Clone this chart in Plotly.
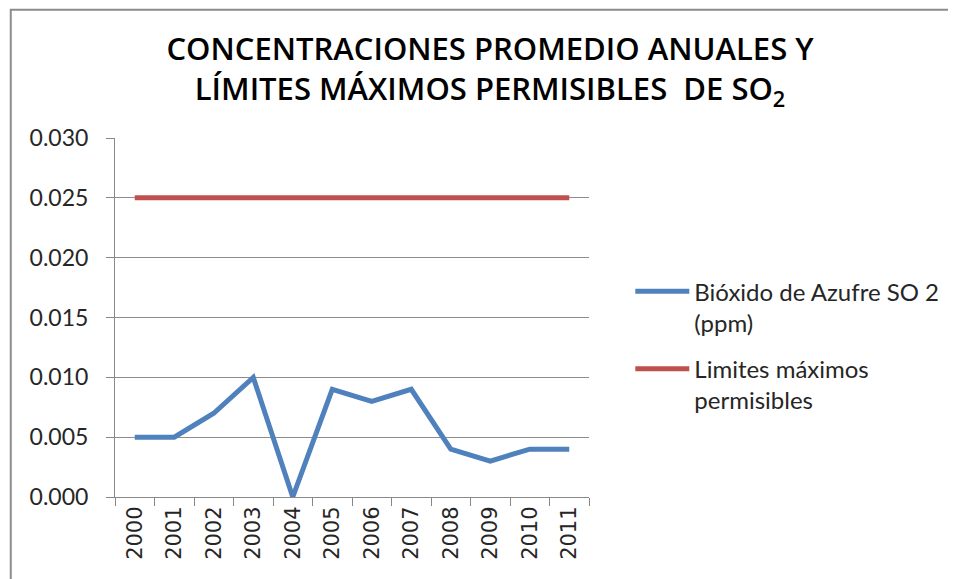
import plotly.graph_objects as go

years = ["2000", "2001", "2002", "2003", "2004", "2005", "2006", "2007", "2008", "2009", "2010", "2011"]
so2_ppm = [0.005, 0.005, 0.007, 0.010, 0.000, 0.009, 0.008, 0.009, 0.004, 0.003, 0.004, 0.004]
limite = [0.025] * 12
y_ticks = [0.000, 0.005, 0.010, 0.015, 0.020, 0.025, 0.030]
y_tick_labels = ["0.000", "0.005", "0.010", "0.015", "0.020", "0.025", "0.030"]

fig = go.Figure()
fig.add_trace(go.Scatter(x=years, y=so2_ppm, mode="lines", legendgroup="a",
                         name="Bióxido de Azufre SO 2<br>(ppm)",
                         line=dict(color="#4F81BD", width=5)))
fig.add_trace(go.Scatter(x=years, y=limite, mode="lines", legendgroup="b",
                         name="Limites máximos<br>permisibles",
                         line=dict(color="#C0504D", width=5)))

# page body has an 8px margin: positions below are in figure coordinates
OFF = 8
W, H = 948, 571
L, R, T, B = 115 - OFF, 597 - OFF, 137.5 - OFF, 497.5 - OFF
pw, ph = R - L, B - T

fig.update_layout(
    width=W, height=H,
    margin=dict(l=L, r=W - R, t=T, b=H - B, pad=0),
    paper_bgcolor="white", plot_bgcolor="white",
    title=dict(text="CONCENTRACIONES PROMEDIO ANUALES Y<br>LÍMITES MÁXIMOS PERMISIBLES  DE SO<sub>2</sub>",
               font=dict(family="Open Sans", size=31, color="black", weight=600),
               x=(490 - OFF) / W, xanchor="center", y=1 - 52 / H, yanchor="top", yref="container"),
    font=dict(family="Lato", color="#262626"),
    showlegend=True,
    legend=dict(x=(639 - OFF - L) / pw, y=(B - (269 - OFF)) / ph, xanchor="left", yanchor="top",
                font=dict(family="Lato", size=24, color="#262626"), valign="top",
                bgcolor="rgba(0,0,0,0)", tracegroupgap=12, itemwidth=54, borderwidth=0),
    xaxis=dict(type="category", showgrid=False, showline=True, linecolor="#888888", linewidth=1,
               ticks="outside", ticklen=8, tickcolor="#888888", tickson="boundaries",
               tickangle=-90, tickfont=dict(family="DejaVu Sans", size=21, color="#262626"),
               range=[-0.5, 11.5]),
    yaxis=dict(range=[0, 0.030], tickvals=y_ticks, ticktext=y_tick_labels,
               showgrid=True, gridcolor="#8c8c8c", gridwidth=1, zeroline=False,
               showline=True, linecolor="#888888", linewidth=1,
               ticks="outside", ticklen=8, tickcolor="#888888",
               tickfont=dict(family="Lato", size=23, color="#262626"), ticklabelstandoff=13),
    shapes=[dict(type="rect", xref="paper", yref="paper",
                 x0=(9 - OFF - L) / pw, x1=(W + 40 - L) / pw, y0=(B - (H + 40)) / ph, y1=(B - (9 - OFF)) / ph,
                 line=dict(color="#8c8c8c", width=2), fillcolor="rgba(0,0,0,0)", layer="below")],
)

fig.write_html("out.html")
